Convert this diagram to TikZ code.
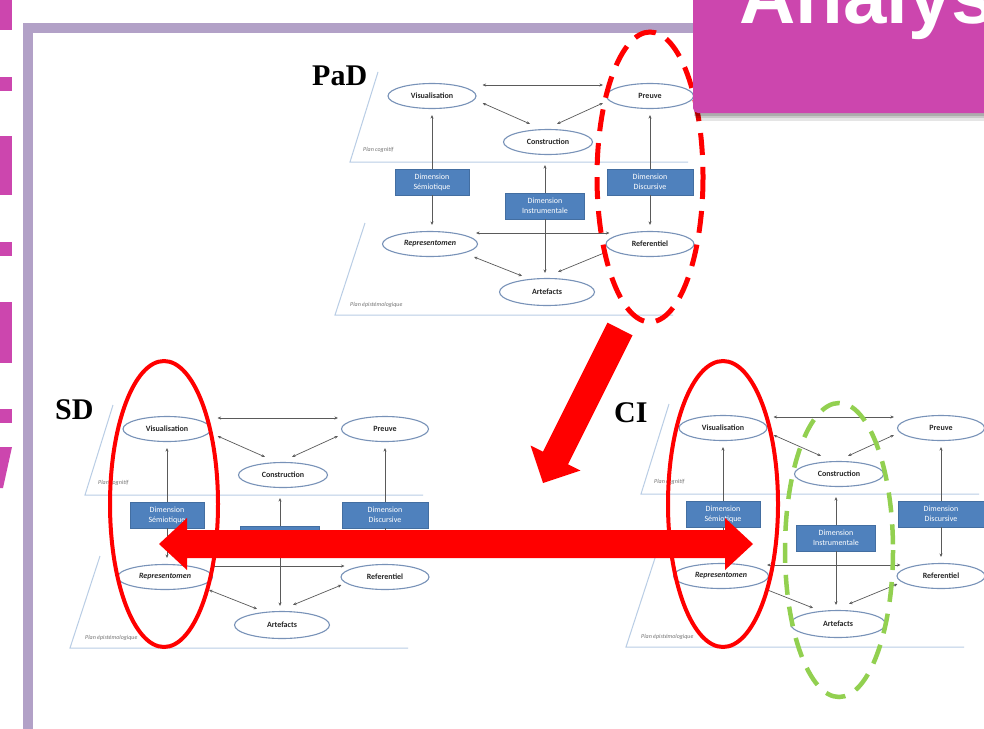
\documentclass[tikz,border=0pt]{standalone}
\usepackage{fontspec}
\newfontfamily\calib{Carlito}
\newfontfamily\serifb{Liberation Serif}
\newfontfamily\sansb{Liberation Sans}
\usetikzlibrary{arrows.meta,calc,shapes.geometric}
\definecolor{mag}{RGB}{204,70,174}
\definecolor{framec}{RGB}{178,161,199}
\definecolor{ellb}{RGB}{120,146,184}
\definecolor{boxb}{RGB}{79,129,189}
\definecolor{planec}{RGB}{185,205,229}
\definecolor{arrg}{RGB}{90,90,90}
\definecolor{grn}{RGB}{146,208,80}
\tikzset{
 ell/.style={ellipse, draw=ellb, line width=1.1pt, fill=white, inner sep=0pt, font=\calib\bfseries\fontsize{8}{9}\selectfont, text=black!85},
 dbox/.style={rectangle, draw=boxb!85!black, line width=0.5pt, fill=boxb, text=white, inner sep=0pt, align=center, font=\calib\fontsize{8}{10}\selectfont},
 plane/.style={draw=planec, line width=1pt},
 plantext/.style={anchor=west, inner sep=0pt, font=\calib\itshape\fontsize{6}{7}\selectfont, text=black!55},
 dconn/.style={draw=arrg, line width=0.7pt, {Stealth[length=3.5pt,width=3pt]}-{Stealth[length=3.5pt,width=3pt]}},
 sconn/.style={draw=arrg, line width=0.7pt, -{Stealth[length=3.5pt,width=3pt]}},
 ttl/.style={anchor=base west, inner sep=0pt, font=\serifb\bfseries\fontsize{30}{30}\selectfont},
}
\newcommand\drawdiag[3]{%
\begin{scope}[shift={(#2,#3)}]
\draw[plane] (378,72) -- (350,162) -- (688,162);
\draw[plane] (365,223) -- (335,315) -- (673,315);
\node[plantext] (#1pc) at (363,150) {Plan cognitif};
\node[plantext] (#1pe) at (350,305) {Plan épistémologique};
\node[ell, minimum width=88pt, minimum height=25pt] (#1vis) at (432,96) {Visualisation};
\node[ell, minimum width=87pt, minimum height=25pt] (#1pre) at (650,96) {Preuve};
\node[ell, minimum width=89pt, minimum height=25pt] (#1con) at (548,142) {Construction};
\node[ell, minimum width=95pt, minimum height=25pt] (#1rep) at (430,244) {\itshape Representomen};
\node[ell, minimum width=88pt, minimum height=25pt] (#1ref) at (650,244) {Referentiel};
\node[ell, minimum width=95pt, minimum height=27pt] (#1art) at (547,292) {Artefacts};
\node[dbox, minimum width=74pt, minimum height=26pt] (#1dsem) at (432,182) {Dimension\\Sémiotique};
\node[dbox, minimum width=86pt, minimum height=26pt] (#1ddis) at (650,182) {Dimension\\Discursive};
\node[dbox, minimum width=79pt, minimum height=26pt] (#1dins) at (545,206) {Dimension\\Instrumentale};
\end{scope}
\draw[dconn] ($(#1vis.east)+(6,-11)$) -- ($(#1pre.west)+(-3,-11)$);
\draw[dconn] ($(#1vis.east)+(6,7)$) -- ($(#1con.north)+(-18,-5)$);
\draw[dconn] ($(#1pre.west)+(-3,7)$) -- ($(#1con.north)+(9,-5)$);
\draw[sconn] (#1dsem.north) -- ($(#1dsem.north |- #1vis.south)+(0,6)$);
\draw[sconn] (#1dsem.south) -- ($(#1dsem.south |- #1rep.north)+(0,-6)$);
\draw[sconn] (#1ddis.north) -- ($(#1ddis.north |- #1pre.south)+(0,6)$);
\draw[sconn] (#1ddis.south) -- ($(#1ddis.south |- #1ref.north)+(0,-6)$);
\draw[sconn] (#1dins.north) -- ($(#1dins.north |- #1con.south)+(0,10)$);
\draw[sconn] (#1dins.south) -- ($(#1dins.south |- #1art.north)+(0,-5)$);
\draw[dconn] ($(#1rep.east)+(-2,-11)$) -- ($(#1ref.west)+(4,-11)$);
\draw[dconn] ($(#1rep.east)+(-4,13)$) -- ($(#1art.north)+(-25,-2)$);
\draw[dconn] ($(#1ref.west)+(1,8)$) -- ($(#1art.north)+(11,-6)$);
}
\begin{document}
\begin{tikzpicture}[x=1pt,y=-1pt]
\useasboundingbox (0,0) rectangle (984,728);
\clip (0,0) rectangle (984,728);
\fill[white] (0,0) rectangle (984,728);
% frame
\draw[framec, line width=10pt] (28,740) -- (28,28) -- (700,28);
% clipped title letters at left edge
\fill[mag] (0,0) rectangle (12,30);
\fill[mag] (0,77) rectangle (12,91);
\fill[mag] (0,136) rectangle (12,195);
\fill[mag] (0,242) rectangle (12,256);
\fill[mag] (0,302) rectangle (12,363);
\fill[mag] (0,409) rectangle (12,423);
\fill[mag] (0,447) -- (12,447) -- (3,488) -- (0,488) -- cycle;
% diagrams
\drawdiag{pad}{0}{0}
\drawdiag{sd}{-265}{333}
\drawdiag{ci}{291}{332}
\node[ttl] (tpad) at (312,85) {PaD};
\node[ttl] (tsd) at (55,419) {SD};
\node[ttl] (tci) at (614,422) {CI};
% highlight ellipses
\draw[red, line width=4pt] (164,504) ellipse [x radius=54, y radius=143];
\draw[red, line width=4pt] (723,504) ellipse [x radius=55, y radius=143];
\draw[grn, line width=4.5pt, dash pattern=on 20pt off 12pt] (839,550) ellipse [x radius=54, y radius=147];
\draw[red, line width=5pt, dash pattern=on 22pt off 12pt] (650,177) ellipse [x radius=53, y radius=145];
% big red arrows
\fill[red] (607.5,322.7) -- (632.5,335.3) -- (568,464.3) -- (580.5,470.5) -- (543,483) -- (530.5,445.5) -- (543,451.7) -- cycle;
\fill[red] (159,544) -- (187,518) -- (187,530) -- (725,530) -- (725,518) -- (753,544) -- (725,570) -- (725,558) -- (187,558) -- (187,570) -- cycle;
% title box
\fill[black, opacity=0.10] (696,0) rectangle (990,121);
\fill[black, opacity=0.12] (695,0) rectangle (990,118);
\fill[black, opacity=0.14] (694,0) rectangle (990,116);
\fill[mag, rounded corners=5pt] (693,-10) rectangle (995,113);
\node[anchor=base west, inner sep=0pt, text=white, font=\sansb\bfseries\fontsize{78}{78}\selectfont] (title) at (739,23) {Analys};
\end{tikzpicture}
\end{document}
